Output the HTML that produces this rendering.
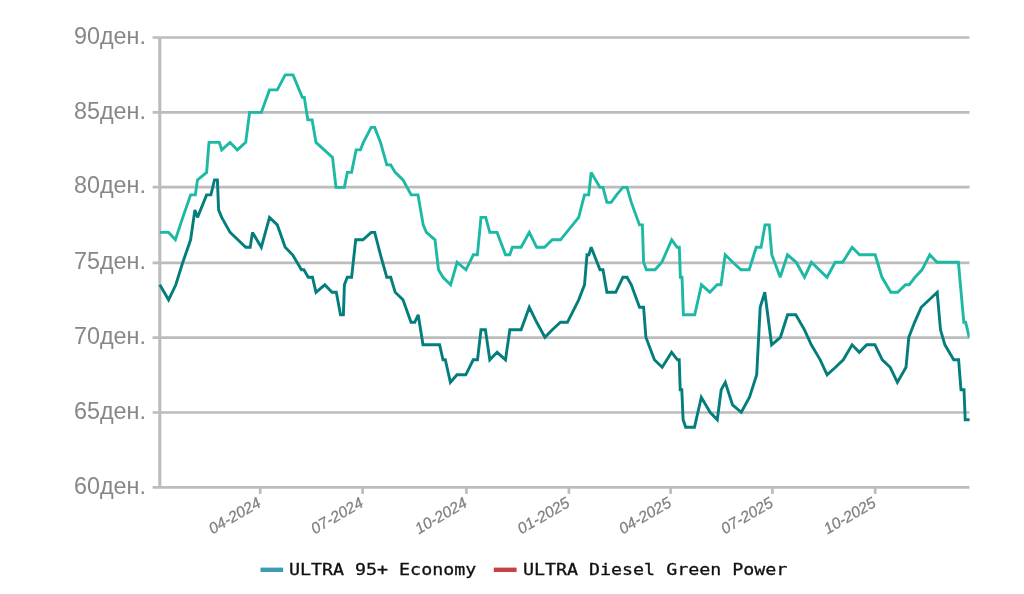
<!DOCTYPE html>
<html lang="mk"><head><meta charset="utf-8"><title>Цени на горива</title>
<style>
html,body{margin:0;padding:0;background:#fff;}
body{width:1024px;height:594px;overflow:hidden;position:relative;}
svg{display:block;position:absolute;left:0;top:0;}
.yl{font-family:"Liberation Sans","DejaVu Sans",sans-serif;font-size:23.1px;fill:#878787;text-anchor:end;}
.xl{font-family:"Liberation Sans","DejaVu Sans",sans-serif;font-size:15.6px;font-style:italic;fill:#808080;stroke:#808080;stroke-width:0.25px;text-anchor:end;}
.lg{font-family:"DejaVu Sans Mono","Liberation Mono",monospace;font-size:15.4px;fill:#111;stroke:#111;stroke-width:0.3px;}
</style></head><body>
<svg width="1024" height="594" viewBox="0 0 1024 594">
<defs><clipPath id="cp"><rect x="158" y="30" width="811.6" height="460"/></clipPath></defs>
<rect width="1024" height="594" fill="#fff"/>

<g stroke="#bcbcbc" stroke-width="2.7" fill="none">
<line x1="152.6" y1="487.4" x2="969.5" y2="487.4"/>
<line x1="152.6" y1="412.5" x2="969.5" y2="412.5"/>
<line x1="152.6" y1="337.7" x2="969.5" y2="337.7"/>
<line x1="152.6" y1="262.9" x2="969.5" y2="262.9"/>
<line x1="152.6" y1="187.1" x2="969.5" y2="187.1"/>
<line x1="152.6" y1="112.4" x2="969.5" y2="112.4"/>
<line x1="152.6" y1="37.5" x2="969.5" y2="37.5"/>
<line x1="159.8" y1="37.5" x2="159.8" y2="487.4" stroke-width="3.1"/>
<line x1="260.2" y1="487.4" x2="260.2" y2="493.9"/>
<line x1="362.6" y1="487.4" x2="362.6" y2="493.9"/>
<line x1="466.4" y1="487.4" x2="466.4" y2="493.9"/>
<line x1="568.9" y1="487.4" x2="568.9" y2="493.9"/>
<line x1="670.6" y1="487.4" x2="670.6" y2="493.9"/>
<line x1="772.4" y1="487.4" x2="772.4" y2="493.9"/>
<line x1="875.2" y1="487.4" x2="875.2" y2="493.9"/>
</g>
<g clip-path="url(#cp)" fill="none" stroke-width="2.9" stroke-miterlimit="2.8" stroke-linejoin="miter" stroke-linecap="butt">
<polyline stroke="#1db9a4" points="159.8,232.4 168.6,232.4 175.4,239.8 182.8,217.4 190.6,194.9 195.3,194.9 197.5,179.9 206.6,172.4 209.0,142.4 219.3,142.4 221.7,149.9 230.1,142.4 237.3,149.9 245.7,142.4 249.6,112.4 261.3,112.4 269.5,89.9 277.3,89.9 285.2,74.9 293.0,74.9 302.3,97.4 304.3,97.4 307.8,119.9 312.1,119.9 316.0,142.4 332.5,157.4 336.0,187.4 344.4,187.4 347.3,172.4 351.6,172.4 356.1,149.9 360.4,149.9 363.4,142.4 371.2,127.4 374.7,127.4 380.5,142.4 386.8,164.9 390.7,164.9 395.2,172.4 403.0,179.9 411.2,194.9 418.0,194.9 423.2,224.9 426.4,232.4 435.0,239.8 438.5,269.8 443.0,277.3 450.6,284.8 457.1,262.3 466.0,269.8 473.3,254.8 477.4,254.8 481.0,217.4 485.7,217.4 489.8,232.4 497.1,232.4 505.5,254.8 509.8,254.8 512.4,247.3 521.1,247.3 529.3,232.4 536.7,247.3 544.5,247.3 552.3,239.8 560.5,239.8 578.7,217.4 584.5,194.9 588.7,194.9 591.2,172.4 600.0,187.4 603.0,187.4 606.9,202.4 611.2,202.4 616.6,194.9 622.9,187.4 627.0,187.4 631.3,202.4 639.5,224.9 642.4,224.9 643.6,262.3 646.4,269.8 655.0,269.8 661.8,262.3 671.7,239.8 677.2,247.3 679.3,247.3 680.4,277.3 682.0,277.3 683.4,314.8 694.7,314.8 701.5,284.8 709.9,292.3 717.1,284.8 721.0,284.8 725.2,254.8 732.8,262.3 741.0,269.8 749.2,269.8 756.2,247.3 761.1,247.3 765.0,224.9 769.3,224.9 771.8,254.8 780.2,277.3 787.5,254.8 796.2,262.3 804.5,277.3 811.4,262.3 827.0,277.3 835.2,262.3 842.6,262.3 852.1,247.3 859.6,254.8 875.2,254.8 882.0,277.3 890.8,292.3 897.7,292.3 905.5,284.8 909.2,284.8 915.0,277.3 922.0,269.8 929.8,254.8 937.0,262.3 958.4,262.3 963.8,322.3 965.6,322.3 969.3,337.3"/>
<polyline stroke="#037e7d" points="159.8,284.8 168.6,299.8 175.8,284.8 182.8,262.3 190.6,239.8 194.9,209.9 197.5,217.4 206.6,194.9 210.9,194.9 214.5,179.9 217.4,179.9 218.6,209.9 221.7,217.4 230.1,232.4 237.9,239.8 245.7,247.3 250.2,247.3 252.5,232.4 261.3,247.3 269.5,217.4 277.3,224.9 285.2,247.3 292.6,254.8 301.4,269.8 303.9,269.8 308.2,277.3 312.5,277.3 316.0,292.3 324.8,284.8 332.0,292.3 336.3,292.3 340.5,314.8 343.4,314.8 344.4,284.8 347.3,277.3 351.6,277.3 355.7,239.8 363.0,239.8 371.2,232.4 374.7,232.4 380.5,254.8 386.8,277.3 390.7,277.3 395.2,292.3 403.0,299.8 411.0,322.3 414.7,322.3 418.2,314.8 423.0,344.8 439.6,344.8 443.0,359.8 445.3,359.8 450.4,382.3 457.0,374.8 465.8,374.8 473.2,359.8 477.5,359.8 481.0,329.8 485.4,329.8 489.8,359.8 497.1,352.3 505.5,359.8 509.8,329.8 521.1,329.8 529.3,307.3 536.7,322.3 544.9,337.3 552.3,329.8 560.5,322.3 567.4,322.3 578.7,299.8 584.5,284.8 587.0,254.8 588.9,254.8 591.2,247.3 600.0,269.8 603.0,269.8 606.9,292.3 615.7,292.3 622.9,277.3 627.0,277.3 631.3,284.8 639.5,307.3 643.6,307.3 645.9,337.3 654.4,359.8 662.2,367.3 671.6,352.3 677.5,359.8 679.2,359.8 680.2,389.8 681.8,389.8 683.1,419.8 685.7,427.3 694.5,427.3 701.3,397.3 710.1,412.3 717.3,419.8 721.2,389.8 725.3,382.3 732.5,404.8 741.3,412.3 749.5,397.3 756.7,374.8 760.2,307.3 764.8,292.3 771.6,344.8 780.4,337.3 787.6,314.8 795.8,314.8 804.5,329.8 811.3,344.8 820.2,359.8 827.1,374.8 835.5,367.3 843.3,359.8 852.1,344.8 859.3,352.3 866.7,344.8 874.9,344.8 882.3,359.8 890.2,367.3 897.4,382.3 906.0,367.3 908.8,337.3 914.6,322.3 921.2,307.3 937.2,292.3 940.5,329.8 944.9,344.8 953.7,359.8 958.6,359.8 961.0,389.8 964.0,389.8 965.2,419.8 971.0,419.8"/>
</g>
<text class="yl" transform="translate(146,493.7) scale(1.012,1)">60ден.</text>
<text class="yl" transform="translate(146,418.8) scale(1.012,1)">65ден.</text>
<text class="yl" transform="translate(146,344.0) scale(1.012,1)">70ден.</text>
<text class="yl" transform="translate(146,269.2) scale(1.012,1)">75ден.</text>
<text class="yl" transform="translate(146,193.4) scale(1.012,1)">80ден.</text>
<text class="yl" transform="translate(146,118.7) scale(1.012,1)">85ден.</text>
<text class="yl" transform="translate(146,43.8) scale(1.012,1)">90ден.</text>
<text class="xl" transform="translate(262.0,505.8) rotate(-30)">04-2024</text>
<text class="xl" transform="translate(364.4,505.8) rotate(-30)">07-2024</text>
<text class="xl" transform="translate(468.2,505.8) rotate(-30)">10-2024</text>
<text class="xl" transform="translate(570.7,505.8) rotate(-30)">01-2025</text>
<text class="xl" transform="translate(672.4,505.8) rotate(-30)">04-2025</text>
<text class="xl" transform="translate(774.2,505.8) rotate(-30)">07-2025</text>
<text class="xl" transform="translate(877.0,505.8) rotate(-30)">10-2025</text>
<rect x="260.5" y="567.6" width="22.6" height="4.4" fill="#3a9eb0"/>
<text class="lg" transform="translate(288.9,575.1) scale(1.19,1)">ULTRA 95+ Economy</text>
<rect x="493.8" y="567.6" width="22.8" height="4.4" fill="#c74343"/>
<text class="lg" transform="translate(522.9,575.1) scale(1.19,1)">ULTRA Diesel Green Power</text>
</svg></body></html>
